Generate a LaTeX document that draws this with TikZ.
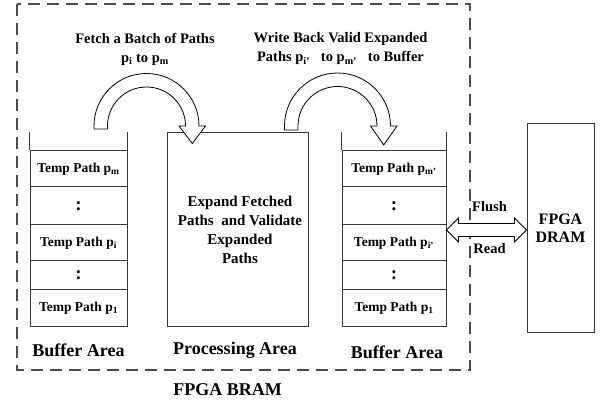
\documentclass[tikz,border=0pt]{standalone}
\usepackage{fontspec}
\setmainfont{Liberation Serif}
\usetikzlibrary{calc}
\begin{document}
\begin{tikzpicture}[x=1pt,y=1pt,
  boxline/.style={draw=black!78, line width=1pt},
  cell/.style={boxline, minimum height=#1, inner sep=0pt,
    font=\fontsize{13.5}{15}\selectfont\bfseries},
  lcell/.style={cell=#1, minimum width=97},
  rcell/.style={cell=#1, minimum width=104},
  dots/.style={font=\fontsize{19}{19}\selectfont\bfseries},
  area/.style={font=\fontsize{18}{20}\selectfont\bfseries},
  caption/.style={font=\fontsize{14.5}{19}\selectfont\bfseries, align=center},
  hollow/.style={draw=black, line width=0.8pt, fill=white, line join=miter},
  bram/.style={draw=black!70, line width=1.3pt, dash pattern=on 12pt off 7pt}]
\useasboundingbox (0,0) rectangle (600,407);

% on-chip BRAM region
\draw[bram] (17,403) rectangle (470,37);
\node[area] (bramlbl) at (227.5,17) {FPGA BRAM};

% left buffer stack
\node[lcell=37] (lp1) at (78.5,98.5) {Temp Path p\textsubscript{1}};
\node[lcell=29] (ld2) at (78.5,131.5) {};
\node[dots] at (ld2) {:};
\node[lcell=36] (lpi) at (78.5,164) {Temp Path p\textsubscript{i}};
\node[lcell=38] (ld1) at (78.5,201) {};
\node[dots] at (ld1) {:};
\node[lcell=36] (lpm) at (78.5,238) {Temp Path p\textsubscript{m}};
\draw[boxline] (lpm.north west) -- ++(0,18);
\draw[boxline] (lpm.north east) -- ++(0,18);
\node[area] (lbl1) at (78.5,57) {Buffer Area};

% processing block
\node[boxline, minimum width=141, minimum height=194, inner sep=0pt,
      font=\fontsize{15}{19}\selectfont\bfseries, align=center]
  (proc) at (237.5,177) {\hspace*{5pt}Expand Fetched\\\hspace*{5pt}Paths~ and Validate\\\hspace*{5pt}Expanded\\\hspace*{5pt}Paths};
\node[area] (lbl2) at (235,57) {Processing Area};

% right buffer stack
\node[rcell=37] (rp1) at (394,98.5) {Temp Path p\textsubscript{1}};
\node[rcell=29] (rd2) at (394,131.5) {};
\node[dots] at (rd2) {:};
\node[rcell=36] (rpi) at (394,164) {Temp Path p\textsubscript{i’}};
\node[rcell=38] (rd1) at (394,201) {};
\node[dots] at (rd1) {:};
\node[rcell=36] (rpm) at (394,238) {Temp Path p\textsubscript{m’}};
\draw[boxline] (rpm.north west) -- ++(0,18);
\draw[boxline] (rpm.north east) -- ++(0,18);
\node[area] (lbl3) at (397,55) {Buffer Area};

% off-chip memory
\node[boxline, minimum width=67, minimum height=209, inner sep=0pt,
      font=\fontsize{16}{18}\selectfont\bfseries, align=center]
  (dram) at (560.5,178.5) {FPGA\\DRAM};

% fetch arrow: left buffer -> processing block
\draw[hollow] (94,278) -- (94,281) arc[start angle=180, end angle=0, radius=52.5]
  -- (205.5,281) -- (192.25,263.5) -- (179,281) -- (185.5,281)
  arc[start angle=0, end angle=180, radius=39] -- (107.5,278) -- cycle;
\node[caption] (fetch) at (145,358) {Fetch a Batch of Paths\\p\textsubscript{i} to p\textsubscript{m}};

% write-back arrow: processing block -> right buffer
\draw[hollow] (284.5,277) -- (284.5,281) arc[start angle=180, end angle=0, radius=53]
  -- (397,281) -- (383.75,262) -- (370.5,281) -- (377,281)
  arc[start angle=0, end angle=180, radius=39.5] -- (298,277) -- cycle;
\node[caption] (wback) at (340.5,358)
  {Write Back Valid Expanded\\Paths p\textsubscript{i’}~~ to p\textsubscript{m’}~~ to Buffer};

% flush / read double arrow between right buffer and DRAM
\coordinate (dl) at (rpi.east |- 0,177);
\coordinate (dr) at (dram.west |- 0,177);
\draw[hollow] (dl) -- ($(dl)+(12,12)$) -- ($(dl)+(12,6.5)$) -- ($(dr)+(-12,6.5)$)
  -- ($(dr)+(-12,12)$) -- (dr) -- ($(dr)+(-12,-12)$) -- ($(dr)+(-12,-6.5)$)
  -- ($(dl)+(12,-6.5)$) -- ($(dl)+(12,-12)$) -- cycle;
\node[caption] (flush) at (489.5,200) {Flush};
\node[caption] (read) at (489.5,158) {Read};
\end{tikzpicture}
\end{document}
